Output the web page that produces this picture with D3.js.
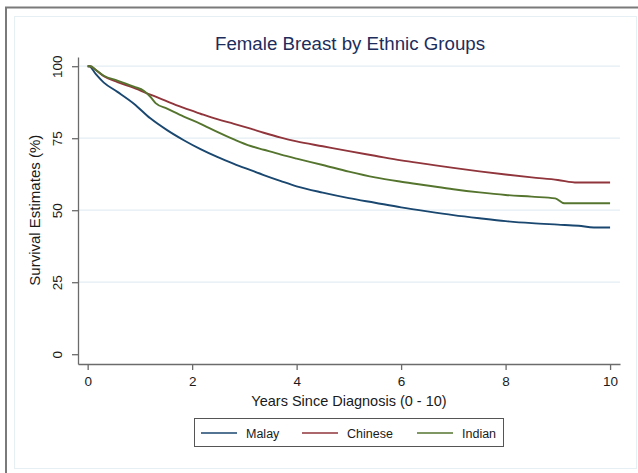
<!DOCTYPE html>
<html>
<head>
<meta charset="utf-8">
<script src="https://cdn.jsdelivr.net/npm/d3@7"></script>
<style>
  body { margin: 0; background: #fff; }
  svg { display: block; font-family: "Liberation Sans", Arial, sans-serif; }
</style>
</head>
<body>
<svg id="chart" width="638" height="473"></svg>
<script>
// ---- data (years, survival %) ----
const malayT   = [0, 0.03, 0.15, 0.31, 0.57, 0.885, 1.2, 1.52, 1.84, 2.16, 2.48, 2.8, 3.12, 3.37, 3.7, 4.0, 4.5, 5.0, 5.5, 6.0, 6.5, 7.0, 7.5, 8.0, 8.5, 9.0, 9.4, 9.69, 10];
const malayS   = [100, 100, 97.4, 94.3, 91.1, 87.0, 81.9, 77.8, 74.3, 71.2, 68.5, 66.1, 63.9, 62.2, 60.1, 58.3, 56.1, 54.2, 52.6, 51.0, 49.6, 48.3, 47.2, 46.2, 45.5, 45.0, 44.6, 44.0, 44.0];
const chineseT = [0, 0.05, 0.15, 0.31, 0.57, 0.885, 1.2, 1.52, 1.84, 2.16, 2.48, 2.8, 3.12, 3.37, 3.7, 4.0, 4.5, 5.0, 5.5, 6.0, 6.5, 7.0, 7.5, 8.0, 8.5, 9.0, 9.37, 10];
const chineseS = [100, 100, 98.8, 96.5, 94.5, 92.5, 90.1, 87.8, 85.5, 83.5, 81.6, 80.0, 78.3, 76.9, 75.2, 73.9, 72.2, 70.5, 68.9, 67.3, 66.0, 64.7, 63.5, 62.4, 61.4, 60.5, 59.6, 59.6];
const indianT  = [0, 0.05, 0.15, 0.31, 0.57, 0.885, 1.08, 1.2, 1.3, 1.52, 1.84, 2.16, 2.48, 2.8, 3.12, 3.37, 3.7, 4.0, 4.5, 5.0, 5.5, 6.0, 6.5, 7.0, 7.5, 8.0, 8.5, 8.95, 9.12, 10];
const indianS  = [100, 100, 98.8, 96.7, 95.0, 92.9, 91.4, 89.4, 87.2, 85.3, 82.5, 80.0, 77.2, 74.6, 72.3, 71.0, 69.3, 67.9, 65.7, 63.4, 61.4, 59.9, 58.6, 57.3, 56.2, 55.3, 54.7, 54.1, 52.4, 52.4];

const groupNames = ["Malay", "Chinese", "Indian"];
const groupColors = ["#1a476f", "#90353b", "#55752f"];
const xTicks = [0, 2, 4, 6, 8, 10];
const yTicks = [0, 25, 50, 75, 100];

const series = [
  { name: groupNames[0], t: malayT, s: malayS },
  { name: groupNames[1], t: chineseT, s: chineseS },
  { name: groupNames[2], t: indianT, s: indianS }
];

const svg = d3.select("#chart");

// ---- frames ----
svg.append("rect")
  .attr("x", 14.5).attr("y", 16.5).attr("width", 622).attr("height", 452)
  .attr("fill", "none").attr("stroke", "#e6eff4");
svg.append("path")
  .attr("d", "M6,473 V7.5 H638")
  .attr("fill", "none").attr("stroke", "#7a7a7a").attr("stroke-width", 2);

// ---- scales ----
const x = d3.scaleLinear().domain([-0.185, 10.19]).range([78, 620]);
const y = d3.scaleLinear().domain([-3.4, 103.2]).range([364, 57]);

// gridlines
svg.append("g")
  .selectAll("line")
  .data(yTicks.filter(d => d > 0))
  .enter().append("line")
  .attr("x1", 78).attr("x2", 620)
  .attr("y1", d => y(d)).attr("y2", d => y(d))
  .attr("stroke", "#e4eef4").attr("stroke-width", 1.2);

// axes
const yAxis = svg.append("g")
  .attr("transform", "translate(78,0)")
  .call(d3.axisLeft(y).tickValues(yTicks).tickSize(6).tickSizeOuter(0));
// rotated tick labels, reading bottom to top
yAxis.selectAll(".tick text")
  .attr("x", 0).attr("y", 0).attr("dy", 0)
  .attr("transform", "translate(-16,0) rotate(-90)")
  .style("text-anchor", "middle");

const xAxis = svg.append("g")
  .attr("transform", "translate(0,364)")
  .call(d3.axisBottom(x).tickValues(xTicks).tickSize(6).tickSizeOuter(0));
xAxis.selectAll(".tick text").attr("y", 12).attr("dy", "0.71em");

[yAxis, xAxis].forEach(a => {
  a.selectAll("path, line").attr("stroke", "#6b6b6b").attr("stroke-width", 1.3);
  a.selectAll("text").attr("fill", "#1a1a1a").style("font-size", "13.5px")
    .style("font-family", "'Liberation Sans', Arial, sans-serif");
});

// ---- lines ----
const line = d3.line()
  .x(d => x(d[0]))
  .y(d => y(d[1]))
  .curve(d3.curveMonotoneX);

series.forEach((sr, i) => {
  svg.append("path")
    .datum(sr.t.map((t, j) => [t, sr.s[j]]))
    .attr("fill", "none")
    .attr("stroke", groupColors[i])
    .attr("stroke-width", 1.9)
    .attr("d", line);
});

// ---- titles ----
svg.append("text")
  .attr("x", 350).attr("y", 50)
  .attr("text-anchor", "middle")
  .attr("fill", "#1c2d5c")
  .style("font-size", "18.7px")
  .text("Female Breast by Ethnic Groups");

svg.append("text")
  .attr("transform", "translate(40," + y(50) + ") rotate(-90)")
  .attr("text-anchor", "middle")
  .attr("fill", "#1a1a1a")
  .style("font-size", "15px")
  .text("Survival Estimates (%)");

svg.append("text")
  .attr("x", 349).attr("y", 406)
  .attr("text-anchor", "middle")
  .attr("fill", "#1a1a1a")
  .style("font-size", "14.5px")
  .text("Years Since Diagnosis (0 - 10)");

// ---- legend ----
const legend = svg.append("g");
legend.append("rect")
  .attr("x", 194.5).attr("y", 418.5).attr("width", 309).attr("height", 28)
  .attr("fill", "#fff").attr("stroke", "#555").attr("stroke-width", 1);
const legX = [201, 302, 417];
groupNames.forEach((n, i) => {
  legend.append("line")
    .attr("x1", legX[i]).attr("x2", legX[i] + 36)
    .attr("y1", 433).attr("y2", 433)
    .attr("stroke", groupColors[i]).attr("stroke-width", 1.5);
  legend.append("text")
    .attr("x", legX[i] + 45).attr("y", 437.5)
    .attr("fill", "#1a1a1a")
    .style("font-size", "12.5px")
    .text(n);
});
</script>
</body>
</html>
